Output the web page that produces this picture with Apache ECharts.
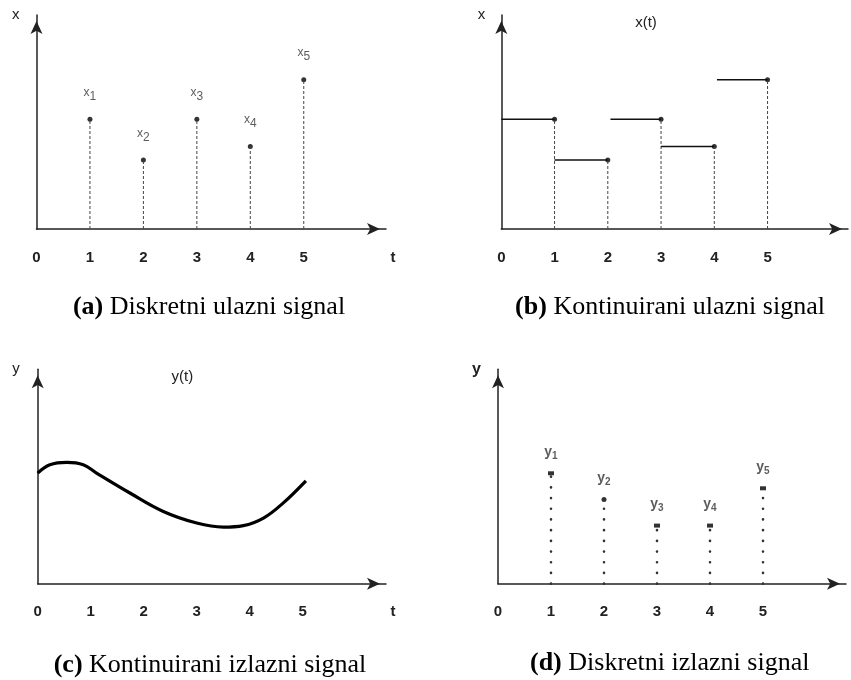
<!DOCTYPE html>
<html>
<head>
<meta charset="utf-8">
<script src="https://cdn.jsdelivr.net/npm/echarts@6/dist/echarts.min.js"></script>
<style>
  html, body { margin: 0; padding: 0; background: #fff; }
  #chart { width: 851px; height: 680px; }
</style>
</head>
<body>
<div id="chart"></div>
<script>
// axis ticks
const ticks = [0, 1, 2, 3, 4, 5];
const tickLabels = ['0', '1', '2', '3', '4', '5'];

// sampled input x1..x5 (panels a, b)
const sampleT = [1, 2, 3, 4, 5];
const xIn = [5.13, 3.22, 5.13, 3.86, 6.98];
// start of each hold segment in (b)
const holdStart = [0, 1, 2.05, 3, 4.05];

// continuous output y(t) (panel c)
const curveT = [0, 0.23, 0.55, 0.86, 1.11, 1.74, 2.37, 3.0, 3.5, 3.88, 4.26, 4.63, 5.06];
const curveY = [5.16, 5.55, 5.66, 5.55, 5.16, 4.23, 3.37, 2.83, 2.64, 2.71, 3.06, 3.76, 4.8];

// sampled output y1..y5 (panel d)
const yOut = [5.15, 3.93, 2.71, 2.71, 4.45];

const captionTags = ['(a)', '(b)', '(c)', '(d)'];
const captions = ['Diskretni ulazni signal', 'Kontinuirani ulazni signal',
  'Kontinuirani izlazni signal', 'Diskretni izlazni signal'];

const chart = echarts.init(document.getElementById('chart'));

const sans = 'Liberation Sans, Arial, sans-serif';
const serif = 'Liberation Serif, Times New Roman, serif';
const axisColor = '#222';

const axisLine = {
  onZero: false,
  lineStyle: { color: axisColor, width: 1.5 },
  symbol: ['none', 'arrow'],
  symbolSize: [9, 13],
  symbolOffset: [0, -6]
};

function xAxisFor(gi, max, name, nameVisible, gap) {
  return {
    type: 'value', gridIndex: gi, min: 0, max: max,
    axisLine: axisLine,
    axisTick: { show: false },
    splitLine: { show: false },
    axisLabel: {
      customValues: ticks,
      formatter: v => tickLabels[ticks.indexOf(v)],
      margin: 21, color: '#222', fontSize: 15, fontWeight: 'bold', fontFamily: sans
    },
    name: nameVisible ? name : '',
    nameLocation: 'end',
    nameGap: gap,
    nameTextStyle: {
      color: '#222', fontSize: 15, fontWeight: 'bold', fontFamily: sans,
      align: 'center', verticalAlign: 'top', padding: [21, 0, 0, 0]
    }
  };
}

function yAxisFor(gi, name, pad, bold) {
  return {
    type: 'value', gridIndex: gi, min: 0, max: 10,
    axisLine: axisLine,
    axisTick: { show: false },
    splitLine: { show: false },
    axisLabel: { show: false },
    name: name,
    nameLocation: 'end',
    nameGap: 0,
    nameTextStyle: {
      color: '#222', fontSize: bold ? 16 : 15, fontWeight: bold ? 'bold' : 'normal', fontFamily: sans,
      align: 'right', verticalAlign: 'middle', padding: pad
    }
  };
}

// vertical stems from the axis up to each sample
function stems(vals) {
  const out = [];
  sampleT.forEach((t, i) => { out.push([t, 0], [t, vals[i]], [t, '-']); });
  return out;
}

const holdSegs = [];
sampleT.forEach((t, i) => { holdSegs.push([holdStart[i], xIn[i]], [t, xIn[i]], [t, '-']); });

const subLabel = (letter, bold) => ({
  show: true,
  position: 'top',
  distance: bold ? 8 : 14,
  formatter: p => `{v|${letter}}{s|${p.dataIndex + 1}}`,
  rich: {
    v: { fontSize: bold ? 14 : 12, fontWeight: bold ? 'bold' : 'normal', fontFamily: sans, color: '#333', padding: [0, 0, 4, 0] },
    s: { fontSize: bold ? 10 : 12, fontWeight: bold ? 'bold' : 'normal', fontFamily: sans, color: '#333', padding: [4, 0, 0, 0] }
  }
});

const option = {
  animation: false,
  grid: [
    { left: 36.5, top: 15, width: 349.5, height: 214, outerBoundsMode: 'none' },
    { left: 501.3, top: 15, width: 346.7, height: 214, outerBoundsMode: 'none' },
    { left: 37.7, top: 369.3, width: 348.3, height: 214.4, outerBoundsMode: 'none' },
    { left: 498, top: 369.3, width: 348, height: 214.4, outerBoundsMode: 'none' }
  ],
  xAxis: [
    xAxisFor(0, 349.5 / 53.45, 't', true, 7),
    xAxisFor(1, 346.7 / 53.25, 't', false, 7),
    xAxisFor(2, 348.3 / 53.0, 't', true, 7),
    xAxisFor(3, 348 / 53.0, 't', true, 9)
  ],
  yAxis: [
    yAxisFor(0, 'x', [0, 17, 0, 0], false),
    yAxisFor(1, 'x', [15, 16, 0, 0], false),
    yAxisFor(2, 'y', [16, 18, 0, 0], false),
    yAxisFor(3, 'y', [16, 17, 0, 0], true)
  ],
  series: [
    // (a) discrete input
    {
      type: 'line', xAxisIndex: 0, yAxisIndex: 0, data: stems(xIn), showSymbol: false,
      lineStyle: { color: '#444', width: 1, type: [3, 2] }
    },
    {
      type: 'scatter', xAxisIndex: 0, yAxisIndex: 0,
      data: sampleT.map((t, i) => [t, xIn[i]]),
      symbol: 'circle', symbolSize: 5, itemStyle: { color: '#000' },
      label: subLabel('x', false)
    },
    // (b) continuous (held) input
    {
      type: 'line', xAxisIndex: 1, yAxisIndex: 1, data: stems(xIn), showSymbol: false,
      lineStyle: { color: '#444', width: 1, type: [3, 2] }
    },
    {
      type: 'line', xAxisIndex: 1, yAxisIndex: 1, data: holdSegs, showSymbol: false,
      lineStyle: { color: '#111', width: 1.5 }
    },
    {
      type: 'scatter', xAxisIndex: 1, yAxisIndex: 1,
      data: sampleT.map((t, i) => [t, xIn[i]]),
      symbol: 'circle', symbolSize: 5, itemStyle: { color: '#000' }
    },
    // (c) continuous output
    {
      type: 'line', xAxisIndex: 2, yAxisIndex: 2,
      data: curveT.map((t, i) => [t, curveY[i]]),
      smooth: 0.4, showSymbol: false,
      lineStyle: { color: '#000', width: 3.2 }
    },
    // (d) discrete output
    {
      type: 'line', xAxisIndex: 3, yAxisIndex: 3, data: stems(yOut), showSymbol: false,
      lineStyle: { color: '#333', width: 2.6, type: [0.1, 10.6], cap: 'round' }
    },
    {
      type: 'scatter', xAxisIndex: 3, yAxisIndex: 3,
      data: sampleT.map((t, i) => [t, yOut[i]]),
      symbol: (v, p) => p.dataIndex === 1 ? 'circle' : 'rect',
      symbolSize: (v, p) => p.dataIndex === 1 ? 5 : [6, 4],
      itemStyle: { color: '#000' },
      label: subLabel('y', true)
    }
  ],
  graphic: [
    { type: 'text', x: 646, y: 23, style: { text: 'x(t)', fontFamily: sans, fontSize: 15, fill: '#222', align: 'center', verticalAlign: 'middle' } },
    { type: 'text', x: 182.3, y: 377.3, style: { text: 'y(t)', fontFamily: sans, fontSize: 15, fill: '#222', align: 'center', verticalAlign: 'middle' } }
  ]
};

const capPos = [[209, 307], [670, 307], [210, 665], [669.7, 663.3]];
captions.forEach((c, i) => {
  option.graphic.push({
    type: 'text', x: capPos[i][0], y: capPos[i][1],
    style: {
      text: `{b|${captionTags[i]}} ${c}`,
      fontFamily: serif, fontSize: 26, fill: '#000',
      align: 'center', verticalAlign: 'middle',
      rich: { b: { fontFamily: serif, fontSize: 26, fontWeight: 'bold', fill: '#000' } }
    }
  });
});

chart.setOption(option);
window.addEventListener('resize', () => chart.resize());
</script>
</body>
</html>
